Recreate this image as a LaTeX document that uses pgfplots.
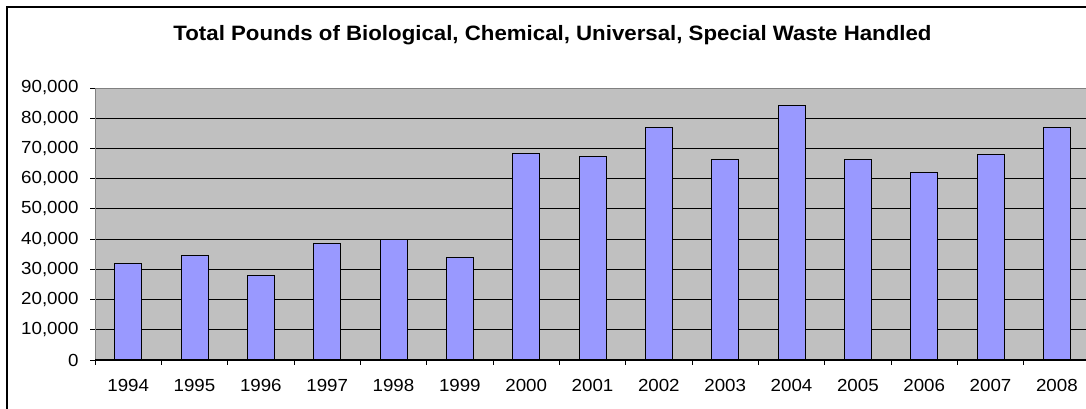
\documentclass[border=0pt]{standalone}
\usepackage{pgfplots}
\pgfplotsset{compat=1.18}
\usepackage{fontspec}
\setmainfont{Liberation Sans}[FakeStretch=1.07]
\definecolor{plotbg}{HTML}{C0C0C0}
\definecolor{barfill}{HTML}{9999FF}
\definecolor{bordergray}{HTML}{808080}
\pgfplotstableread{
x y
1 32000
2 34600
3 28000
4 38500
5 40000
6 33900
7 68300
8 67500
9 76800
10 66300
11 84300
12 66300
13 62100
14 67900
15 76800
}\wastedata
\begin{document}
\begin{tikzpicture}[x=1pt,y=1pt]
\useasboundingbox (0,0) rectangle (1086,409);
\begin{scope}
\clip (0,0) rectangle (1086,409);
\fill[white] (-5,-5) rectangle (1100,420);
\draw[line width=1.8pt] (7,-20) -- (7,402) -- (1120,402);
\node[anchor=base, font=\bfseries\fontsize{20.8}{24}\selectfont] at (552.5,368.5)
  {Total Pounds of Biological, Chemical, Universal, Special Waste Handled};
\begin{axis}[
  at={(95pt,49pt)}, anchor=south west,
  width=995pt, height=272pt, scale only axis,
  xmin=0.5, xmax=15.5, ymin=0, ymax=90000,
  axis background/.style={fill=plotbg},
  axis line style={draw=bordergray, line width=1pt},
  ybar, bar width=27pt,
  ytick={0,10000,...,90000},
  scaled y ticks=false,
  ymajorgrids,
  grid style={black, line width=0.8pt},
  /pgf/number format/1000 sep={,},
  /pgf/number format/fixed,
  /pgf/number format/assume math mode=true,
  yticklabel style={font=\fontsize{17.5}{20}\selectfont, xshift=-8pt},
  xtick={1,...,15},
  xticklabels={1994,1995,1996,1997,1998,1999,2000,2001,2002,2003,2004,2005,2006,2007,2008},
  xticklabel style={font=\fontsize{17.5}{20}\selectfont, yshift=-11pt},
  minor xtick={0.5,1.5,...,15.5},
  major x tick style={draw=none},
  tick align=outside,
  major tick length=5pt,
  minor tick length=5pt,
  tick style={black, line width=0.8pt},
  xtick pos=bottom, ytick pos=left,
  clip=false,
]
\addplot[fill=barfill, draw=black, line width=1pt] table[x=x, y=y] {\wastedata};
\draw[black, line width=1pt] (axis cs:0.5,0) -- (axis cs:15.5,0);
\end{axis}
\end{scope}
\end{tikzpicture}
\end{document}
